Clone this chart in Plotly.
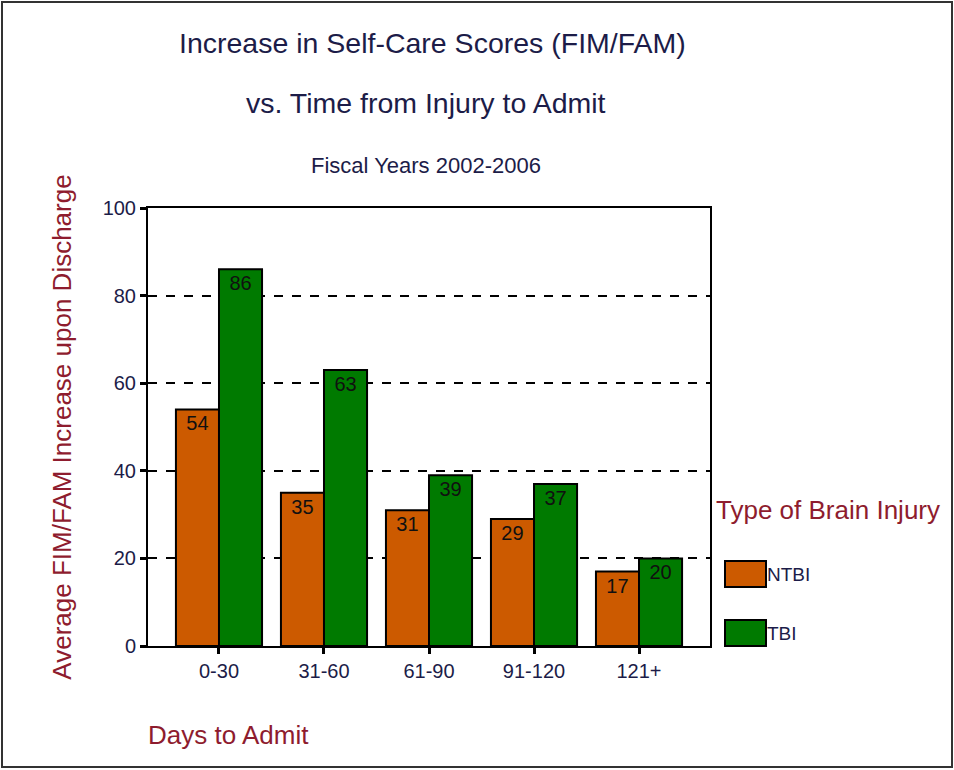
import plotly.graph_objects as go

# Data
categories = ['0-30', '31-60', '61-90', '91-120', '121+']
ntbi_values = [54, 35, 31, 29, 17]
tbi_values = [86, 63, 39, 37, 20]
y_ticks = [0, 20, 40, 60, 80, 100]

series_names = ['NTBI', 'TBI']
series_colors = ['#CC5A00', '#007A00']

FONT = 'Liberation Sans, Arial, sans-serif'
NAVY = '#1c1c48'
MAROON = '#8e1c2e'

W, H = 954, 770
L, R, T, B = 148, 710, 208, 646   # plot area in pixels


# pixel -> paper helpers for the decorations around the plot
def px_x(x):
    return (x - L) / (R - L)


def px_y(y):
    return (B - y) / (B - T)


fig = go.Figure()

for name, vals, col in zip(series_names, [ntbi_values, tbi_values], series_colors):
    fig.add_trace(go.Bar(
        x=categories, y=vals, name=name,
        marker=dict(color=col, line=dict(color='black', width=2)),
        text=[str(v) for v in vals],
        textposition='inside', insidetextanchor='end',
        textfont=dict(family=FONT, size=20, color='#101010'),
        textangle=0,
        showlegend=False,
    ))

fig.update_layout(
    width=W, height=H,
    margin=dict(l=L, r=W - R, t=T, b=H - B),
    paper_bgcolor='white', plot_bgcolor='white',
    barmode='group', bargap=0.18, bargroupgap=0,
    font=dict(family=FONT, color=NAVY),
    uniformtext=dict(mode='show', minsize=20),
)

fig.update_xaxes(
    range=[-0.676, 4.676],
    showline=True, linecolor='black', linewidth=2, mirror=True,
    ticks='outside', ticklen=6, tickwidth=3, tickcolor='black',
    tickfont=dict(size=20, color=NAVY),
    showgrid=False,
)

fig.update_yaxes(
    range=[0, 100], tickvals=y_ticks,
    showline=True, linecolor='black', linewidth=2, mirror=True,
    ticks='outside', ticklen=6, tickwidth=3, tickcolor='black',
    tickfont=dict(size=20, color=NAVY),
    showgrid=True, gridcolor='black', gridwidth=1.5, griddash='dash',
    zeroline=False,
    title=dict(text='Average FIM/FAM Increase upon Discharge',
               font=dict(size=26, color=MAROON), standoff=24),
)

# titles
titles = [
    ('Increase in Self-Care Scores (FIM/FAM)', 432, 43, 28.5),
    ('vs. Time from Injury to Admit', 426, 103, 28.5),
    ('Fiscal Years 2002-2006', 426, 165, 22),
]
for txt, x, y, size in titles:
    fig.add_annotation(text=txt, x=px_x(x), y=px_y(y), xref='paper', yref='paper',
                       showarrow=False, xanchor='center', yanchor='middle',
                       font=dict(size=size, color=NAVY))

# x axis title
fig.add_annotation(text='Days to Admit', x=px_x(146), y=px_y(735), xref='paper', yref='paper',
                   showarrow=False, xanchor='left', yanchor='middle',
                   font=dict(size=26, color=MAROON))

# legend drawn by hand
fig.add_annotation(text='Type of Brain Injury', x=px_x(714), y=px_y(510), xref='paper', yref='paper',
                   showarrow=False, xanchor='left', yanchor='middle',
                   font=dict(size=26, color=MAROON))
legend_rows = [574, 633]
for name, col, yc in zip(series_names, series_colors, legend_rows):
    fig.add_shape(type='rect', xref='paper', yref='paper',
                  x0=px_x(725), x1=px_x(766), y0=px_y(yc + 13), y1=px_y(yc - 13),
                  fillcolor=col, line=dict(color='black', width=2))
    fig.add_annotation(text=name, x=px_x(765), y=px_y(yc), xref='paper', yref='paper',
                       showarrow=False, xanchor='left', yanchor='middle',
                       font=dict(size=19, color=NAVY))

# outer frame
fig.add_shape(type='rect', xref='paper', yref='paper',
              x0=px_x(2), x1=px_x(952), y0=px_y(767), y1=px_y(2),
              line=dict(color='#333333', width=2), fillcolor='rgba(0,0,0,0)')

fig.write_html('out.html', config={'displayModeBar': False},
               post_script="document.body.style.margin='0';document.body.style.overflow='hidden';")
